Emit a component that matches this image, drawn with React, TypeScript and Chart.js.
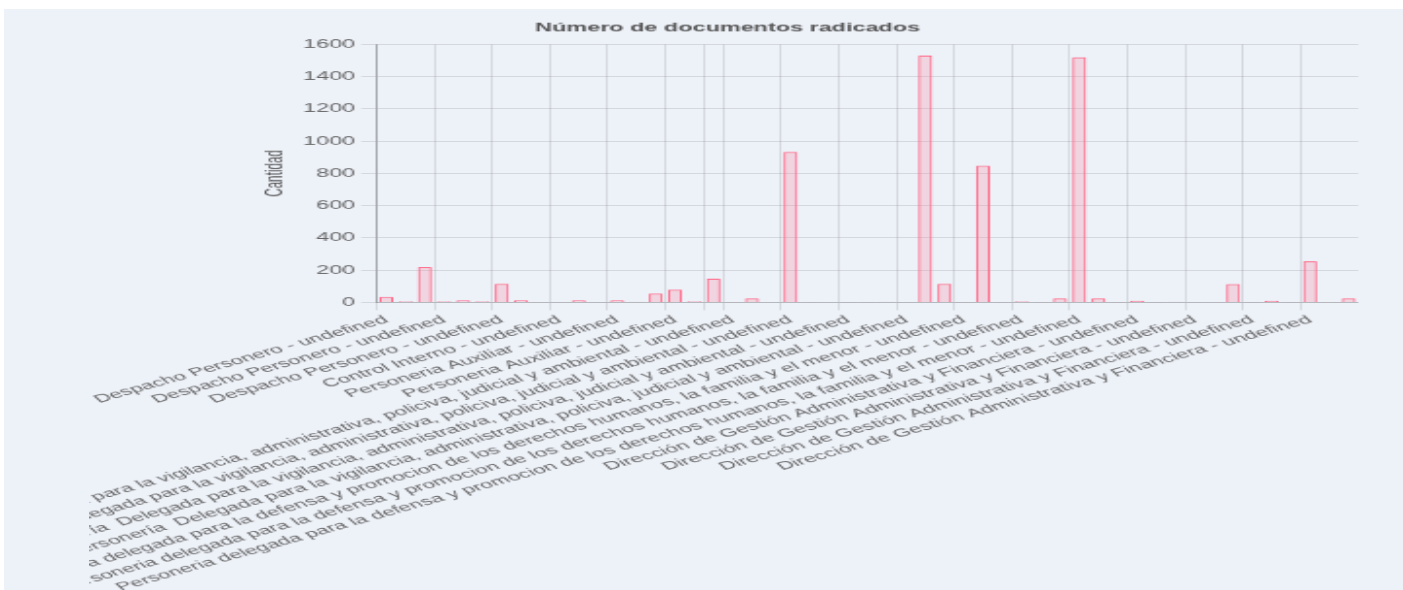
import React, { useEffect, useRef } from 'react';
import { Chart, registerables } from 'chart.js';

Chart.register(...registerables);

const TITLE = 'Número de documentos radicados';
const Y_TITLE = 'Cantidad';

const DP = 'Despacho Personero - undefined';
const CI = 'Control Interno - undefined';
const PA = 'Personeria Auxiliar - undefined';
const VG1 = 'Personería delegada para la vigilancia, administrativa, policiva, judicial y ambiental - undefined';
const VG2 = 'Personería  Delegada para la vigilancia, administrativa, policiva, judicial y ambiental - undefined';
const DF = 'Personeria delegada para la defensa y promocion de los derechos humanos, la familia y el menor - undefined';
const DG = 'Dirección de Gestión Administrativa y Financiera - undefined';

const CATEGORIES = [
  DP, DP, DP, DP, DP, DP, DP, DP, DP,
  CI, CI, CI,
  PA, PA, PA, PA, PA, PA,
  VG1, VG1, VG1, VG1, VG1, VG1,
  VG2, VG2, VG2, VG2, VG2, VG2,
  DF, DF, DF, DF, DF, DF, DF, DF, DF,
  DG, DG, DG, DG, DG, DG, DG, DG, DG, DG, DG, DG,
];

const VALUES = [
  35, 8, 220, 8, 14, 8, 115, 14, 1,
  1, 14, 1,
  14, 5, 55, 80, 8, 147,
  2, 25, 3, 933, 2, 3,
  2, 2, 5, 1, 1530, 115,
  2, 848, 2, 8, 2, 25, 1520, 25, 2,
  10, 2, 5, 1, 1, 114, 2, 10, 2, 256, 1, 25,
];

const Y_MIN = 0;
const Y_MAX = 1600;
const Y_STEP = 200;
const LABEL_STEP = 3;
const EXTRA_GRID = [17];

// internal render size and display stretch
const W0 = 655;
const H0 = 601;
const SX = 1.95;
const SY = 0.97;
const X0 = 89;
const Y0 = 11;

const GRID = 'rgba(0,0,0,0.1)';
const NONE = 'rgba(0,0,0,0)';

function showTick(i: number) {
  return i % LABEL_STEP === 0 || EXTRA_GRID.includes(i);
}

function BarChart() {
  const ref = useRef<HTMLCanvasElement | null>(null);
  useEffect(() => {
    if (!ref.current) return;
    Chart.defaults.font.family = "'Liberation Sans', Arial, Helvetica, sans-serif";
    Chart.defaults.font.size = 12;
    Chart.defaults.color = '#666';
    const chart = new Chart(ref.current, {
      type: 'bar',
      data: {
        labels: CATEGORIES,
        datasets: [
          {
            label: TITLE,
            data: VALUES,
            backgroundColor: 'rgba(255, 99, 132, 0.2)',
            borderColor: 'rgb(255, 99, 132)',
            borderWidth: 1,
          },
        ],
      },
      options: {
        responsive: false,
        animation: false,
        devicePixelRatio: 1,
        plugins: {
          legend: { display: false },
          tooltip: { enabled: false },
          title: {
            display: true,
            text: TITLE,
            color: '#555',
            font: { size: 12, weight: 'bold' },
          },
        },
        scales: {
          x: {
            ticks: {
              autoSkip: false,
              color: '#666',
              font: { size: 11.65 },
              callback: (_v: any, i: number) => (i % LABEL_STEP === 0 ? CATEGORIES[i] : ''),
            },
            grid: {
              color: (ctx: any) => (showTick(ctx.index) ? GRID : NONE),
              tickColor: (ctx: any) => (showTick(ctx.index) ? GRID : NONE),
            },
            border: { color: 'rgba(0,0,0,0.15)' },
          },
          y: {
            min: Y_MIN,
            max: Y_MAX,
            ticks: { stepSize: Y_STEP, color: '#666', callback: (v: any) => String(v) },
            grid: { color: GRID },
            border: { color: 'rgba(0,0,0,0.25)' },
            title: { display: true, text: Y_TITLE, color: '#555' },
          },
        },
      },
    });
    return () => chart.destroy();
  }, []);
  return (
    <div
      style={{
        position: 'absolute',
        left: X0,
        top: Y0,
        width: W0,
        height: H0,
        transform: `scale(${SX}, ${SY})`,
        transformOrigin: '0 0',
      }}
    >
      <canvas ref={ref} width={W0} height={H0} />
    </div>
  );
}

export default function App() {
  return (
    <div style={{ position: 'fixed', left: 0, top: 0, right: 0, bottom: 0, overflow: 'hidden', background: '#fff' }}>
      <div style={{ position: 'absolute', left: 4, top: 9, right: 0, bottom: 0, background: '#edf1f8' }} />
      <BarChart />
    </div>
  );
}
